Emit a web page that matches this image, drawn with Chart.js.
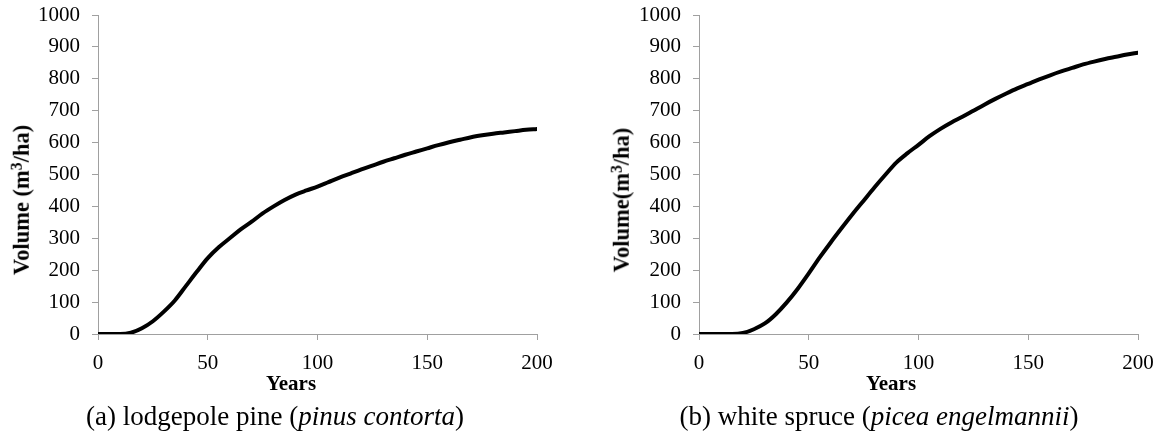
<!DOCTYPE html>
<html>
<head>
<meta charset="utf-8">
<script src="https://cdn.jsdelivr.net/npm/chart.js@4.4.1/dist/chart.umd.min.js"></script>
<style>
  html, body { margin: 0; padding: 0; background: #fff; }
  body { width: 1159px; height: 437px; position: relative; overflow: hidden; font-family: 'Liberation Serif', 'Times New Roman', serif; color: #000; }
  canvas { position: absolute; top: 0; }
  .lbl { position: absolute; white-space: nowrap; line-height: 1; transform: translate(-50%, -50%); }
  .axis { font-size: 21px; font-weight: bold; }
  .ytitle { font-size: 22.5px; transform: translate(-50%, -50%) rotate(-90deg); }
  .caption { font-size: 27px; }
  sup { font-size: 0.7em; line-height: 0; vertical-align: 0.42em; }
</style>
</head>
<body>
<canvas id="pineChart" width="600" height="437" style="left:0px"></canvas>
<canvas id="spruceChart" width="558" height="437" style="left:601px"></canvas>

<div class="lbl axis ytitle" style="left:22px; top:200px">Volume (m<sup>3</sup>/ha)</div>
<div class="lbl axis ytitle" style="left:622px; top:200px">Volume(m<sup>3</sup>/ha)</div>
<div class="lbl axis" style="left:291px; top:383px">Years</div>
<div class="lbl axis" style="left:891px; top:383px">Years</div>
<div class="lbl caption" style="left:275px; top:416px">(a) lodgepole pine (<i>pinus contorta</i>)</div>
<div class="lbl caption" style="left:879px; top:416px">(b) white spruce (<i>picea engelmannii</i>)</div>

<script>
const years = [0, 5, 10, 15, 20, 25, 30, 35, 40, 45, 50, 55, 60, 65, 70, 75, 80, 85, 90, 95,
  100, 105, 110, 115, 120, 125, 130, 135, 140, 145, 150, 155, 160, 165, 170, 175, 180, 185, 190, 195, 200];

// lodgepole pine volume (m3/ha)
const pineVolume = [0, 0, 0, 4, 18, 40, 70, 105, 150, 195, 238, 272, 300, 328, 352, 378, 400, 420, 437, 450,
  462, 476, 490, 503, 516, 528, 540, 551, 562, 572, 582, 592, 601, 609, 617, 623, 628, 632, 636, 640, 643];

// white spruce volume (m3/ha)
const spruceVolume = [0, 0, 0, 0, 3, 15, 33, 62, 99, 142, 190, 240, 287, 332, 376, 418, 460, 500, 538, 567,
  593, 620, 643, 663, 681, 700, 719, 737, 754, 770, 784, 798, 811, 823, 834, 845, 854, 862, 869, 876, 882];

const xTickValues = [0, 50, 100, 150, 200];
const yTickValues = [0, 100, 200, 300, 400, 500, 600, 700, 800, 900, 1000];

const AXIS_GRAY = '#a0a0a0';
const tickFont = { family: "'Liberation Serif', 'Times New Roman', serif", size: 21 };

function noPadding(s) {
  s.paddingTop = 0;
  s.paddingBottom = 0;
  s.paddingLeft = 0;
  s.paddingRight = 0;
}

function makeChart(canvasId, values, rightPad) {
  const canvas = document.getElementById(canvasId);
  const points = years.map((yr, i) => ({ x: yr, y: values[i] }));

  // eslint-disable-next-line no-undef
  return new Chart(canvas, {
    type: 'line',
    data: {
      datasets: [
        {
          data: points,
          borderColor: '#000',
          borderWidth: 4,
          borderCapStyle: 'round',
          borderJoinStyle: 'round',
          pointRadius: 0,
          cubicInterpolationMode: 'monotone',
        },
      ],
    },
    options: {
      responsive: false,
      animation: false,
      devicePixelRatio: 1,
      layout: { padding: { left: 0, top: 15, right: rightPad, bottom: 63 } },
      plugins: { legend: { display: false }, tooltip: { enabled: false } },
      scales: {
        x: {
          type: 'linear',
          min: 0,
          max: 200,
          afterBuildTicks: (s) => { s.ticks = xTickValues.map((v) => ({ value: v })); },
          afterFit: (s) => { s.height = 40; noPadding(s); },
          ticks: { color: '#000', font: tickFont, padding: 11, maxRotation: 0, autoSkip: false, callback: (v) => String(v) },
          grid: { drawOnChartArea: false, drawTicks: true, tickLength: 6, color: AXIS_GRAY },
          border: { display: true, color: AXIS_GRAY, width: 1 },
        },
        y: {
          type: 'linear',
          min: 0,
          max: 1000,
          afterBuildTicks: (s) => { s.ticks = yTickValues.map((v) => ({ value: v })); },
          afterFit: (s) => { s.width = 98; noPadding(s); },
          ticks: { color: '#000', font: tickFont, padding: 12, autoSkip: false, callback: (v) => String(v) },
          grid: { drawOnChartArea: false, drawTicks: true, tickLength: 6, color: AXIS_GRAY },
          border: { display: true, color: AXIS_GRAY, width: 1 },
        },
      },
    },
  });
}

makeChart('pineChart', pineVolume, 63);
makeChart('spruceChart', spruceVolume, 21);
</script>
</body>
</html>
